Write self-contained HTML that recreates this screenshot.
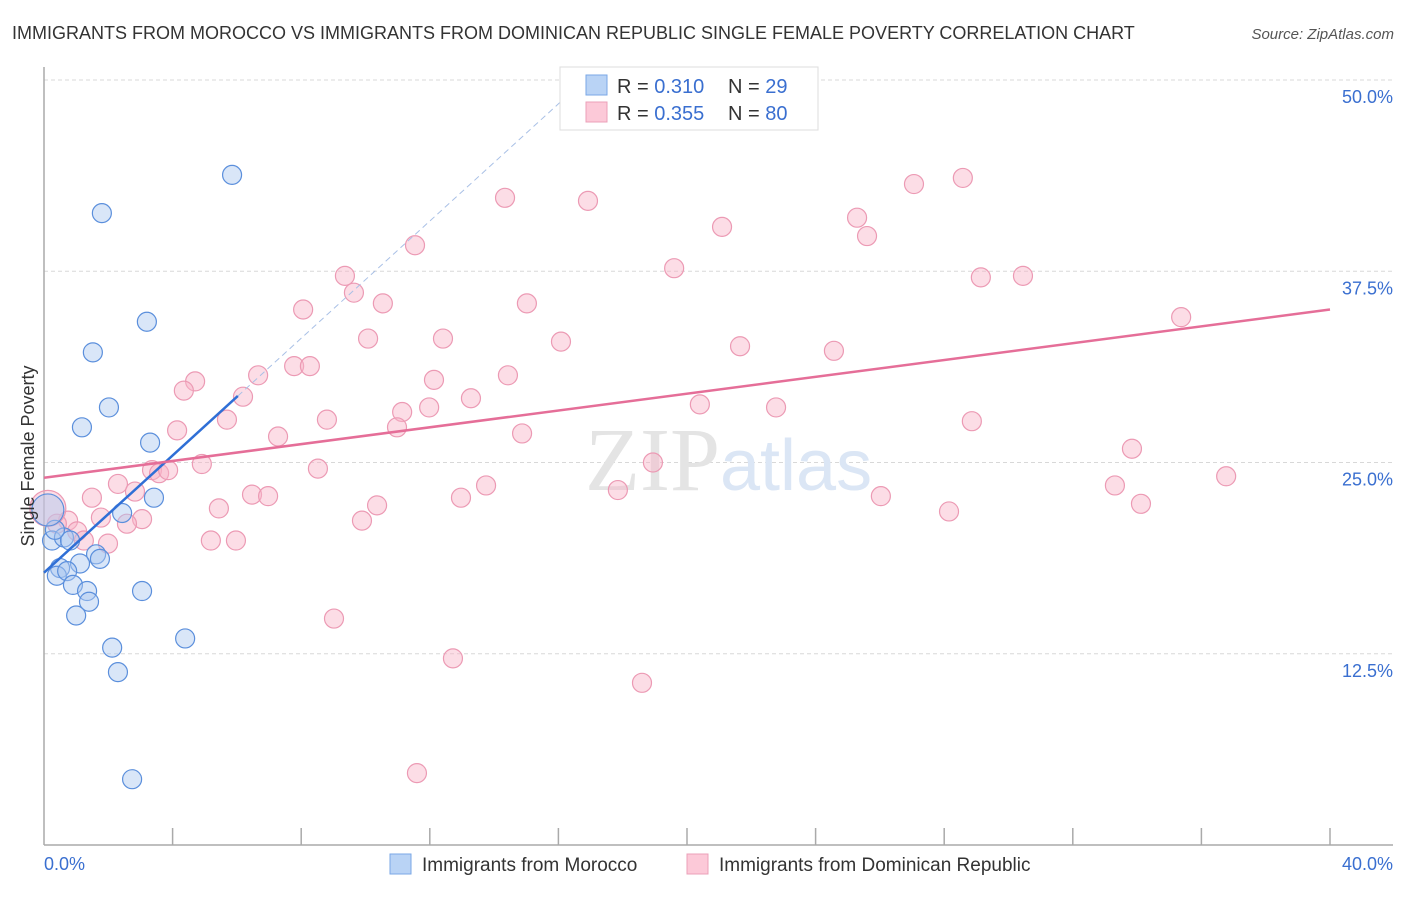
<!DOCTYPE html>
<html><head><meta charset="utf-8"><style>
body{margin:0;background:#fff;font-family:"Liberation Sans",sans-serif;}
</style></head><body>
<svg width="1406" height="892" viewBox="0 0 1406 892" xmlns="http://www.w3.org/2000/svg" font-family="Liberation Sans, sans-serif">
<text x="12" y="39" font-size="18" fill="#333">IMMIGRANTS FROM MOROCCO VS IMMIGRANTS FROM DOMINICAN REPUBLIC SINGLE FEMALE POVERTY CORRELATION CHART</text>
<text x="1394" y="39" font-size="15" fill="#555" font-style="italic" text-anchor="end">Source: ZipAtlas.com</text>
<g id="grid"></g>
<text x="720" y="490" font-size="90" font-family="Liberation Serif, serif" fill="#e4e4e4" text-anchor="end">ZIP</text>
<text x="720" y="490" font-size="72" fill="#dbe6f5">atlas</text>
<g id="axes"></g>
<g id="pts"></g>
<g id="lines"></g>
<text transform="translate(34,456) rotate(-90)" font-size="18" fill="#333" text-anchor="middle">Single Female Poverty</text>
<text x="44" y="870" font-size="18" fill="#3a6fd0">0.0%</text>
<text x="1393" y="870" font-size="18" fill="#3a6fd0" text-anchor="end">40.0%</text>
<g>
<rect x="560" y="67" width="258" height="63" fill="#fff" stroke="#ddd"/>
<rect x="586" y="75" width="21" height="20" fill="#b9d3f5" stroke="#7aa7e6"/>
<rect x="586" y="102" width="21" height="20" fill="#fcc9d8" stroke="#eba0b8"/>
<text x="617" y="93" font-size="20" fill="#333">R = <tspan fill="#3a6fd0">0.310</tspan><tspan x="728">N = </tspan><tspan fill="#3a6fd0">29</tspan></text>
<text x="617" y="120" font-size="20" fill="#333">R = <tspan fill="#3a6fd0">0.355</tspan><tspan x="728">N = </tspan><tspan fill="#3a6fd0">80</tspan></text>
</g>
<g>
<rect x="390" y="854" width="21" height="20" fill="#b9d3f5" stroke="#7aa7e6"/>
<text x="422" y="871" font-size="19" fill="#333">Immigrants from Morocco</text>
<rect x="687" y="854" width="21" height="20" fill="#fcc9d8" stroke="#eba0b8"/>
<text x="719" y="871" font-size="19" fill="#333">Immigrants from Dominican Republic</text>
</g>
</svg>
<script>
const yTicks=[12.5,25,37.5,50];
const yTickLabels=["12.5%","25.0%","37.5%","50.0%"];
const blueX=[5.85,1.80,3.20,1.52,2.02,1.18,3.30,3.42,2.43,0.25,0.62,0.81,1.62,1.74,1.12,0.50,0.40,0.72,0.90,1.34,1.40,1.00,3.05,4.39,2.12,2.30,2.74,0.34,0.12];
const blueY=[43.8,41.3,34.2,32.2,28.6,27.3,26.3,22.7,21.7,19.9,20.1,19.9,19.0,18.7,18.4,18.1,17.6,17.9,17.0,16.6,15.9,15.0,16.6,13.5,12.9,11.3,4.3,20.6,21.9];
const pinkX=[14.34,16.92,21.09,25.29,27.06,28.58,25.60,11.54,19.60,29.14,30.45,9.36,9.64,10.54,15.02,8.06,10.08,12.41,16.08,21.65,24.57,35.37,7.78,8.27,6.66,4.70,4.35,12.13,14.43,6.19,13.28,11.14,11.98,8.80,5.69,20.40,22.77,28.86,10.98,4.14,7.28,14.87,4.91,8.52,3.36,3.58,3.86,18.94,33.84,36.77,1.49,2.30,2.83,6.47,6.97,13.75,12.97,17.85,26.03,33.31,34.12,5.44,10.36,9.89,28.15,1.77,3.05,0.75,0.40,2.58,1.03,1.24,1.99,5.19,5.97,9.02,12.72,18.60,11.60,0.12];
const pinkY=[42.3,42.1,40.4,41.0,43.2,43.6,39.8,39.2,37.7,37.1,37.2,37.2,36.1,35.4,35.4,35.0,33.1,33.1,32.9,32.6,32.3,34.5,31.3,31.3,30.7,30.3,29.7,30.4,30.7,29.3,29.2,28.3,28.6,27.8,27.8,28.8,28.6,27.7,27.3,27.1,26.7,26.9,24.9,24.6,24.5,24.3,24.5,25.0,25.9,24.1,22.7,23.6,23.1,22.9,22.8,23.5,22.7,23.2,22.8,23.5,22.3,22.0,22.2,21.2,21.8,21.4,21.3,21.2,21.0,21.0,20.5,19.9,19.7,19.9,19.9,14.8,12.2,10.6,4.7,22.0];
const blueTrend=[17.8,1.915,6.03,16.8];
const pinkTrend=[24.0,35.0];
const NS="http://www.w3.org/2000/svg";
const X=v=>44+v*32.15, Y=v=>80+(50-v)*15.3;
function mk(t,a,p){const e=document.createElementNS(NS,t);for(const k in a)e.setAttribute(k,a[k]);p.appendChild(e);return e;}
const grid=document.getElementById('grid');
yTicks.forEach((t,i)=>{
 const l=mk('line',{x1:44,x2:1393,y1:Y(t),y2:Y(t),stroke:'#d8d8d8','stroke-dasharray':'4,3'},grid);
 
 
 const tx=mk('text',{x:1393,y:Y(t)+23,'font-size':18,fill:'#3a6fd0','text-anchor':'end'},grid);
 tx.textContent=yTickLabels[i];
 
 
});
const ax=document.getElementById('axes');
mk('line',{x1:44,x2:44,y1:67,y2:845,stroke:'#aaa','stroke-width':1.5},ax);
mk('line',{x1:44,x2:1393,y1:845,y2:845,stroke:'#aaa','stroke-width':1.5},ax);
for(let i=1;i<=10;i++){const l=mk('line',{x1:X(i*4),x2:X(i*4),y1:828,y2:845,stroke:'#aaa','stroke-width':1.5},ax);
 
 }
const pts=document.getElementById('pts');
pinkX.forEach((x,i)=>{const c=mk('circle',{cx:X(x),cy:Y(pinkY[i]),r:i==pinkX.length-1?18:9.5,fill:'rgba(248,180,200,0.45)',stroke:'#ec9ab4','stroke-width':1.2},pts);
 
 });
blueX.forEach((x,i)=>{const c=mk('circle',{cx:X(x),cy:Y(blueY[i]),r:i==blueX.length-1?16:9.5,fill:'rgba(170,200,240,0.45)',stroke:'#5b8fdc','stroke-width':1.2},pts);
 
 });
const ln=document.getElementById('lines');
const b0=blueTrend[0],bs=blueTrend[1];
let l1=mk('line',{x1:X(0),y1:Y(b0),x2:X(blueTrend[2]),y2:Y(b0+bs*blueTrend[2]),stroke:'#2f6fd6','stroke-width':2.5},ln);


let l2=mk('line',{x1:X(blueTrend[2]),y1:Y(b0+bs*blueTrend[2]),x2:X(blueTrend[3]),y2:Y(b0+bs*blueTrend[3]),stroke:'#a9c0e6','stroke-width':1,'stroke-dasharray':'6,4'},ln);


let l3=mk('line',{x1:X(0),y1:Y(pinkTrend[0]),x2:X(40),y2:Y(pinkTrend[1]),stroke:'#e56e98','stroke-width':2.5},ln);


</script>
</body></html>
